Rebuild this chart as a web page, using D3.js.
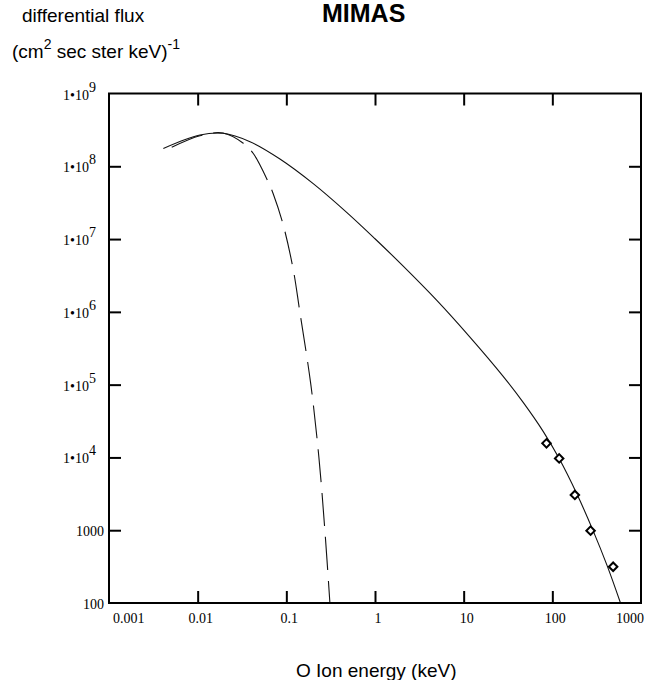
<!DOCTYPE html>
<html>
<head>
<meta charset="utf-8">
<script src="https://cdn.jsdelivr.net/npm/d3@7"></script>
<style>
  html, body { margin: 0; padding: 0; background: #fff; }
  svg { display: block; }
</style>
</head>
<body>
<svg id="chart" width="659" height="680"></svg>
<script>
// ---- data ----
const energyTicks = [0.001, 0.01, 0.1, 1, 10, 100, 1000];
const energyTickLabels = ["0.001", "0.01", "0.1", "1", "10", "100", "1000"];
const fluxTicks = [1e9, 1e8, 1e7, 1e6, 1e5, 1e4, 1000, 100];
const fluxTickBase = ["1\u202210", "1\u202210", "1\u202210", "1\u202210", "1\u202210", "1\u202210", "1000", "100"];
const fluxTickExp = ["9", "8", "7", "6", "5", "4", "", ""];

// solid model curve
const modelEnergy = [0.0041, 0.0106, 0.0193, 0.0389, 0.0847, 0.201, 0.479, 1.0, 2.08, 4.95, 11.7, 27.9, 46.9, 78.8, 119.4, 190.5, 288, 415, 587];
const modelFlux = [1.76e8, 2.69e8, 2.84e8, 2.18e8, 1.26e8, 5.78e7, 2.33e7, 1.01e7, 4.25e6, 1.45e6, 4.54e5, 1.30e5, 5.70e4, 2.28e4, 9.64e3, 3.09e3, 988, 326, 100];

// dashed curve
const dashEnergy = [0.0051, 0.0106, 0.0193, 0.0327, 0.0424, 0.0625, 0.0711, 0.0923, 0.1197, 0.142, 0.189, 0.233, 0.272, 0.31];
const dashFlux = [1.82e8, 2.62e8, 2.86e8, 2.07e8, 1.50e8, 6.1e7, 4.2e7, 1.56e7, 3.8e6, 1.0e6, 1.0e5, 1.0e4, 1.0e3, 100];

// observed points (diamonds)
const obsEnergy = [85.9, 119.4, 179.5, 270, 485];
const obsFlux = [1.56e4, 9.7e3, 3.05e3, 985, 315];

const titleText = "MIMAS";
const yTitle1 = "differential flux";
const xTitle = "O Ion energy (keV)";

// ---- layout ----
const svg = d3.select("#chart");
const L = 109, R = 641, T = 93.5, B = 603;
const x = d3.scaleLog().domain([0.001, 1000]).range([L, R]);
const y = d3.scaleLog().domain([100, 1e9]).range([B, T]);

const serif = "'Liberation Serif', 'Times New Roman', serif";
const sans = "'Liberation Sans', Arial, sans-serif";

// clip
svg.append("defs").append("clipPath").attr("id", "clip")
  .append("rect").attr("x", L).attr("y", T).attr("width", R - L).attr("height", B - T);

// curves
const line = d3.line().x(d => x(d[0])).y(d => y(d[1])).curve(d3.curveCatmullRom.alpha(0.5));
const plot = svg.append("g").attr("clip-path", "url(#clip)");

plot.append("path")
  .datum(modelEnergy.map((e, i) => [e, modelFlux[i]]))
  .attr("d", line)
  .attr("fill", "none").attr("stroke", "#111").attr("stroke-width", 1.1);

plot.append("path")
  .datum(dashEnergy.map((e, i) => [e, dashFlux[i]]))
  .attr("d", line)
  .attr("fill", "none").attr("stroke", "#111").attr("stroke-width", 1.1)
  .attr("stroke-dasharray", "33,11");

// diamonds
const diamond = d3.symbol().type(d3.symbolSquare).size(36);
svg.append("g").selectAll("path")
  .data(obsEnergy.map((e, i) => [e, obsFlux[i]]))
  .join("path")
  .attr("d", diamond)
  .attr("transform", d => `translate(${x(d[0])},${y(d[1])}) rotate(45)`)
  .attr("fill", "#fff").attr("stroke", "#000").attr("stroke-width", 2);

// axes: ticks inward on all four sides
const tickLen = 12;
const inner = energyTicks.slice(1, -1);
const axB = d3.axisTop(x).tickValues(inner).tickSize(tickLen).tickFormat("");
const axT = d3.axisBottom(x).tickValues(inner).tickSize(tickLen).tickFormat("");
const innerY = fluxTicks.slice(1, -1);
const axL = d3.axisRight(y).tickValues(innerY).tickSize(tickLen).tickFormat("");
const axR = d3.axisLeft(y).tickValues(innerY).tickSize(tickLen).tickFormat("");

function styleAxis(g) {
  g.select(".domain").remove();
  g.selectAll(".tick line").attr("stroke", "#000").attr("stroke-width", 2);
}
svg.append("g").attr("transform", `translate(0,${B})`).call(axB).call(styleAxis);
svg.append("g").attr("transform", `translate(0,${T})`).call(axT).call(styleAxis);
svg.append("g").attr("transform", `translate(${L},0)`).call(axL).call(styleAxis);
svg.append("g").attr("transform", `translate(${R},0)`).call(axR).call(styleAxis);

// frame
svg.append("rect").attr("x", L).attr("y", T).attr("width", R - L).attr("height", B - T)
  .attr("fill", "none").attr("stroke", "#000").attr("stroke-width", 2);

// x tick labels
svg.append("g").selectAll("text")
  .data(energyTicks)
  .join("text")
  .attr("x", (d, i) => i === 0 ? x(d) + 4 : x(d) + 3)
  .attr("y", B + 20)
  .attr("text-anchor", (d, i) => i === 0 ? "start" : (i === energyTicks.length - 1 ? "end" : "middle"))
  .attr("font-family", serif).attr("font-size", 14).attr("fill", "#000")
  .text((d, i) => energyTickLabels[i]);

// y tick labels
const yl = svg.append("g").selectAll("text")
  .data(fluxTicks)
  .join("text")
  .attr("x", (d, i) => fluxTickExp[i] ? 96 : 104)
  .attr("y", d => y(d) + 6)
  .attr("text-anchor", "end")
  .attr("font-family", serif).attr("font-size", 14).attr("fill", "#000");
yl.append("tspan").text((d, i) => fluxTickBase[i]);
yl.filter((d, i) => fluxTickExp[i] !== "")
  .append("tspan").attr("dy", -8).text(d => fluxTickExp[fluxTicks.indexOf(d)]);

// titles
svg.append("text").attr("x", 322).attr("y", 22)
  .attr("font-family", sans).attr("font-weight", "bold").attr("font-size", 25)
  .attr("fill", "#000").text(titleText);

svg.append("text").attr("x", 22).attr("y", 22)
  .attr("font-family", sans).attr("font-size", 19).attr("fill", "#000").text(yTitle1);

const yt2 = svg.append("text").attr("x", 12).attr("y", 58)
  .attr("font-family", sans).attr("font-size", 19).attr("fill", "#000");
yt2.append("tspan").text("(cm");
yt2.append("tspan").attr("dy", -9).attr("font-size", 14).text("2");
yt2.append("tspan").attr("dy", 9).text(" sec ster keV)");
yt2.append("tspan").attr("dy", -9).attr("font-size", 14).text("-1");

svg.append("text").attr("x", 296).attr("y", 677)
  .attr("font-family", sans).attr("font-size", 19).attr("fill", "#000").text(xTitle);
</script>
</body>
</html>
